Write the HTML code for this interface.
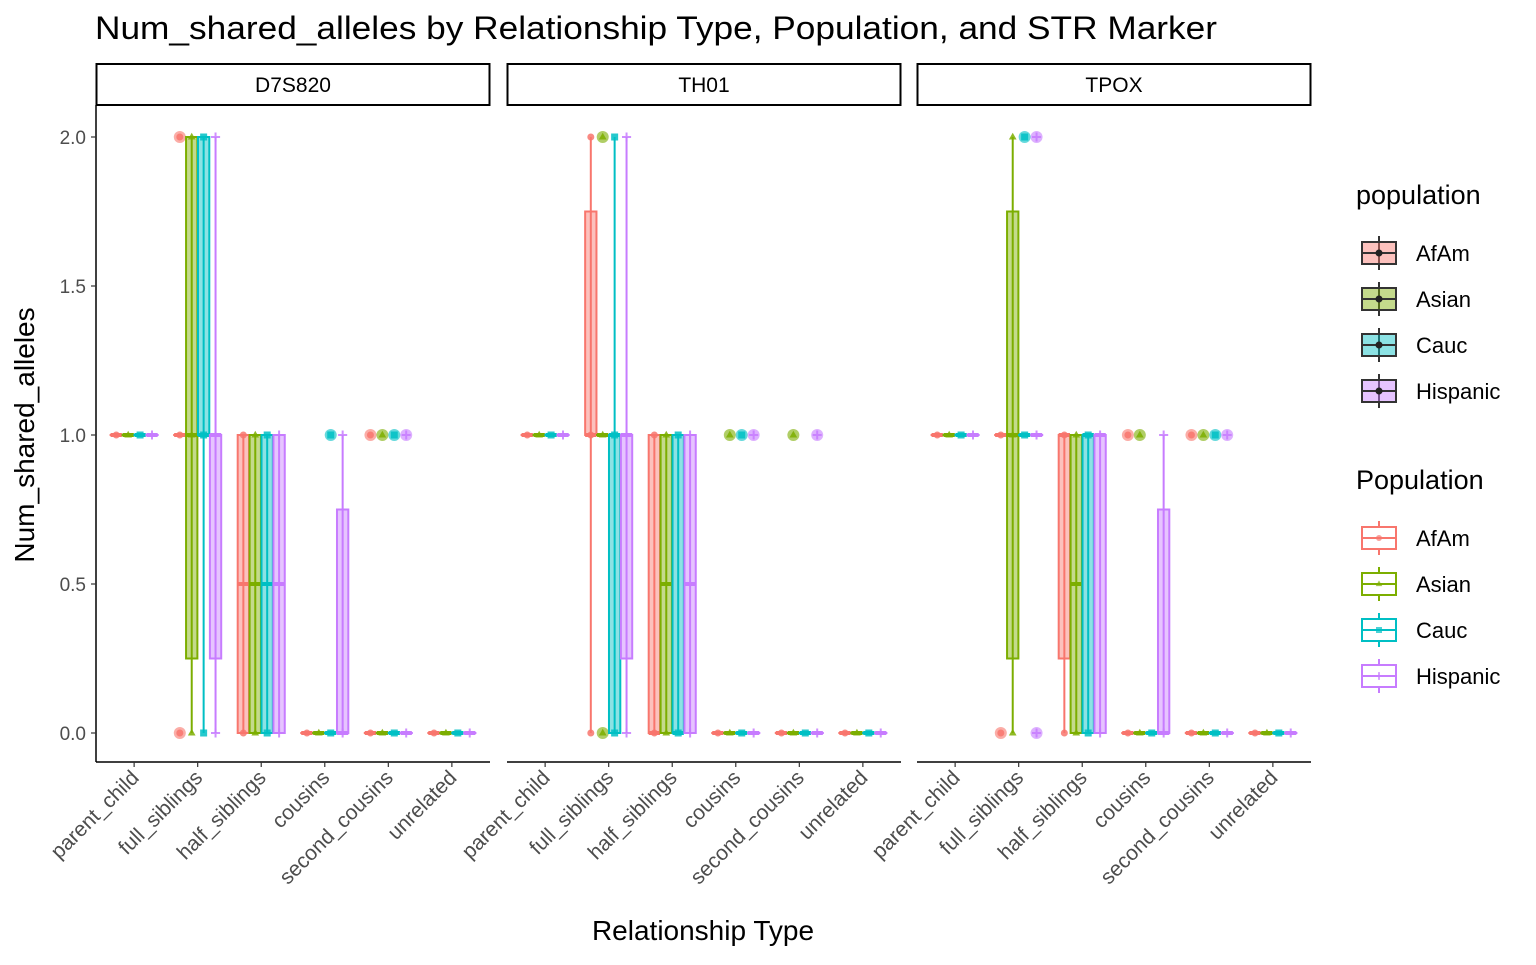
<!DOCTYPE html>
<html><head><meta charset="utf-8"><style>
body{margin:0;background:#fff;}
svg text{font-family:"Liberation Sans",Arial,sans-serif;}
</style></head><body>
<svg id="chart" width="1536" height="960" xmlns="http://www.w3.org/2000/svg">
<text x="95" y="39" font-size="32" fill="#000" textLength="1122" lengthAdjust="spacingAndGlyphs">Num_shared_alleles by Relationship Type, Population, and STR Marker</text>
<text transform="translate(34,435) rotate(-90)" text-anchor="middle" font-size="28">Num_shared_alleles</text>
<text x="703" y="940" text-anchor="middle" font-size="28">Relationship Type</text>
<g id="panels"></g>
<g id="legend"></g>
</svg>
<script>
const markers = ["D7S820","TH01","TPOX"];
const categories = ["parent_child","full_siblings","half_siblings","cousins","second_cousins","unrelated"];
const populations = ["AfAm","Asian","Cauc","Hispanic"];
const yTicks = [0,0.5,1,1.5,2];
const yTickLabels = ["0.0","0.5","1.0","1.5","2.0"];
// box stats [lower whisker, q1, median, q3, upper whisker] per marker -> category -> population
const F1=[1,1,1,1,1], Z=[0,0,0,0,0], H=[0,0,0.5,1,1];
const boxD7S820 = [
 [F1,F1,F1,F1],
 [F1,[0,0.25,1,2,2],[0,1,1,2,2],[0,0.25,1,1,2]],
 [H,H,H,H],
 [Z,Z,Z,[0,0,0,0.75,1]],
 [Z,Z,Z,Z],
 [Z,Z,Z,Z]];
const boxTH01 = [
 [F1,F1,F1,F1],
 [[0,1,1,1.75,2],F1,[0,0,1,1,2],[0,0.25,1,1,2]],
 [[0,0,0,1,1],H,[0,0,0,1,1],H],
 [Z,Z,Z,Z],
 [Z,Z,Z,Z],
 [Z,Z,Z,Z]];
const boxTPOX = [
 [F1,F1,F1,F1],
 [F1,[0,0.25,1,1.75,2],F1,F1],
 [[0,0.25,1,1,1],H,[0,0,1,1,1],[0,0,1,1,1]],
 [Z,Z,Z,[0,0,0,0.75,1]],
 [Z,Z,Z,Z],
 [Z,Z,Z,Z]];
// outliers per marker -> category -> population
const outD7S820 = [[[],[],[],[]],[[2,0],[],[],[]],[[],[],[],[]],[[],[],[1],[]],[[1],[1],[1],[1]],[[],[],[],[]]];
const outTH01 = [[[],[],[],[]],[[],[2,0],[],[]],[[],[],[],[]],[[],[1],[1],[1]],[[],[1],[],[1]],[[],[],[],[]]];
const outTPOX = [[[],[],[],[]],[[0],[],[2],[2,0]],[[],[],[],[]],[[1],[1],[],[]],[[1],[1],[1],[1]],[[],[],[],[]]];
const boxes=[boxD7S820,boxTH01,boxTPOX], outs=[outD7S820,outTH01,outTPOX];

const colors=["#F8766D","#7CAE00","#00BFC4","#C77CFF"];
const NS="http://www.w3.org/2000/svg";
const panelX=[96,507,917], PW=394, yTop=64;
function yS(v){return 733-298*v;}
function xS(p,ci,pi){const u=PW/6.2;return panelX[p]+(0.6+ci)*u+(pi-1.5)*u*0.1875;}
function el(tag,attrs,parent){const e=document.createElementNS(NS,tag);for(const k in attrs)e.setAttribute(k,attrs[k]);parent.appendChild(e);return e;}
function shape(g,pi,x,y,s,op){
  const c=colors[pi];let e;
  if(pi===0)e=el('circle',{cx:x,cy:y,r:s,fill:c,opacity:op},g);
  else if(pi===1)e=el('polygon',{points:`${x},${y-s*1.2} ${x-s*1.1},${y+s*0.7} ${x+s*1.1},${y+s*0.7}`,fill:c,opacity:op},g);
  else if(pi===2)e=el('rect',{x:x-s,y:y-s,width:2*s,height:2*s,fill:c,opacity:op},g);
  else e=el('path',{d:`M${x-s*1.3},${y}H${x+s*1.3}M${x},${y-s*1.3}V${y+s*1.3}`,stroke:c,'stroke-width':2,opacity:op},g);
  return e;
}
const root=document.getElementById('panels');
markers.forEach((m,p)=>{
  const g=el('g',{},root);
  
  
  const strip=el('rect',{x:panelX[p]+0.5,y:yTop,width:PW-1,height:41,fill:'#fff',stroke:'#000','stroke-width':2},g);
  
  
  const st=el('text',{x:panelX[p]+PW/2,y:92,'text-anchor':'middle','font-size':21},g);st.textContent=m;
  
  
  const ax=el('line',{x1:panelX[p],x2:panelX[p]+PW,y1:762,y2:762,stroke:'#000','stroke-width':1.5},g);
  
  
  if(p===0){
    const ay=el('line',{x1:96,x2:96,y1:yTop+41,y2:762,stroke:'#000','stroke-width':1.5},g);
    
    
    yTicks.forEach((v,i)=>{
      el('line',{x1:91,x2:96,y1:yS(v),y2:yS(v),stroke:'#333','stroke-width':1.2},g);
      const t=el('text',{x:86,y:yS(v)+7,'text-anchor':'end','font-size':19,fill:'#4d4d4d'},g);t.textContent=yTickLabels[i];
      
      
    });
  }
  categories.forEach((c,ci)=>{
    const cx=panelX[p]+(0.6+ci)*PW/6.2;
    el('line',{x1:cx,x2:cx,y1:762,y2:767,stroke:'#333','stroke-width':1.2},g);
    const t=el('text',{transform:`translate(${cx+6},${779}) rotate(-45)`,'text-anchor':'end','font-size':21,fill:'#4d4d4d'},g);t.textContent=c;
    
    
    populations.forEach((pop,pi)=>{
      const b=boxes[p][ci][pi], x=xS(p,ci,pi), w=PW/6.2*0.1875*0.95, col=colors[pi];
      const bg=el('g',{},g);
      
      
      el('line',{x1:x,x2:x,y1:yS(b[0]),y2:yS(b[4]),stroke:col,'stroke-width':2},bg);
      el('rect',{x:x-w/2,y:yS(b[3]),width:w,height:Math.max(0.01,yS(b[1])-yS(b[3])),fill:col,'fill-opacity':0.45,stroke:col,'stroke-width':2},bg);
      el('line',{x1:x-w/2,x2:x+w/2,y1:yS(b[2]),y2:yS(b[2]),stroke:col,'stroke-width':4},bg);
      const vals=new Set(b.filter(v=>v===0||v===1||v===2));
      outs[p][ci][pi].forEach(v=>{
        const o=el('circle',{cx:x,cy:yS(v),r:6,fill:col,opacity:0.6},bg);
        
        
        vals.add(v);
      });
      vals.forEach(v=>{const s=shape(bg,pi,x,yS(v),3.5,0.85);
        
        });
    });
  });
});
// legends
const lg=document.getElementById('legend');
function legend(title,ty,dark){
  const t=el('text',{x:1356,y:ty,'font-size':27},lg);t.textContent=title;
  
  
  populations.forEach((pop,i)=>{
    const y=ty+49+i*46, col=colors[i], sc=dark?'#333':col;
    const g=el('g',{},lg);
    
    
    el('line',{x1:1379,x2:1379,y1:y-17,y2:y+17,stroke:sc,'stroke-width':2},g);
    el('rect',{x:1362,y:y-11,width:34,height:22,fill:dark?col:'#fff','fill-opacity':dark?0.45:1,stroke:sc,'stroke-width':2},g);
    el('line',{x1:1362,x2:1396,y1:y,y2:y,stroke:sc,'stroke-width':2},g);
    if(dark)el('circle',{cx:1379,cy:y,r:3.5,fill:'#222'},g);else shape(g,i,1379,y,3,0.7);
    const tx=el('text',{x:1416,y:y+8,'font-size':22},g);tx.textContent=pop;
  });
}
legend('population',204,true);
legend('Population',489,false);
</script>
</body></html>
